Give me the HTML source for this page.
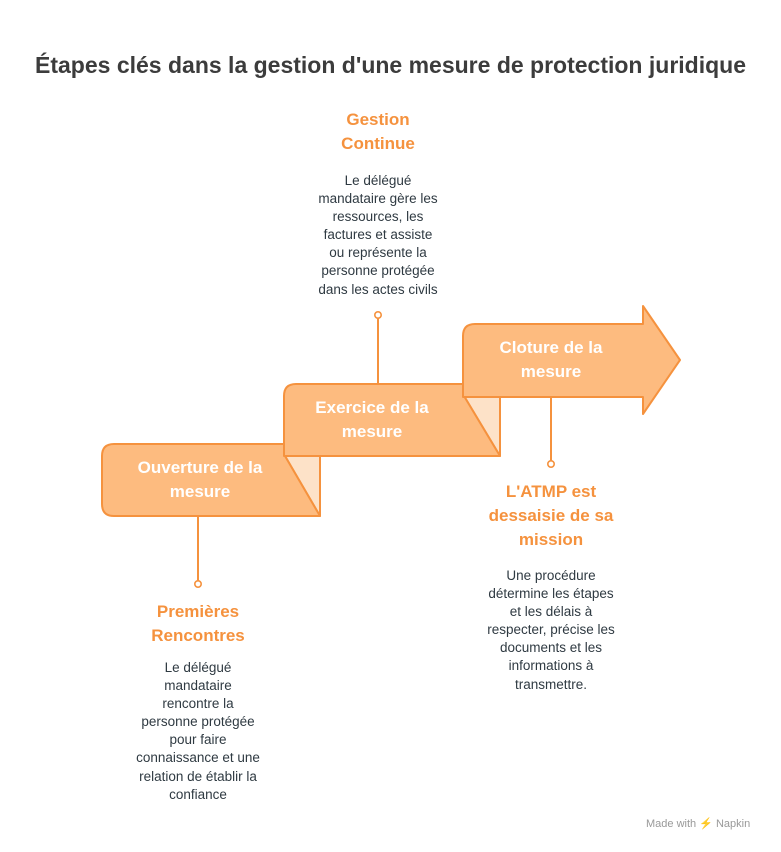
<!DOCTYPE html>
<html><head><meta charset="utf-8"><style>
body{margin:0;width:781px;height:852px;background:#fff;position:relative;font-family:"Liberation Sans",Arial,sans-serif;overflow:hidden}
.t{position:absolute;text-align:center;white-space:nowrap}
.h{font-weight:bold;font-size:17px;line-height:24px;color:#f5923e}
.b{font-size:13.5px;line-height:18.1px;color:#2f3a42}
.w{font-weight:bold;font-size:17px;line-height:24px;color:#fff}
</style></head><body>
<div class="t" style="left:0;width:781px;top:52px;font-size:23px;font-weight:bold;color:#3c3c3c">Étapes clés dans la gestion d'une mesure de protection juridique</div>
<svg width="781" height="852" style="position:absolute;left:0;top:0">
<g stroke="#f5923e" stroke-width="2" stroke-linejoin="round">
<polygon points="285,456 320,456 320,516" fill="#fde2c8"/>
<path d="M114,444 L285,444 L285,456 L320,516 L114,516 Q102,516 102,504 L102,456 Q102,444 114,444 Z" fill="#fdbb7f"/>
<polygon points="464,396 500,396 500,456" fill="#fde2c8"/>
<path d="M296,384 L464,384 L464,396 L500,456 L284,456 L284,396 Q284,384 296,384 Z" fill="#fdbb7f"/>
<path d="M475,324 L643,324 L643,306 L680,360 L643,414 L643,397 L463,397 L463,336 Q463,324 475,324 Z" fill="#fdbb7f"/>
<line x1="378" y1="318" x2="378" y2="384"/>
<line x1="198" y1="516" x2="198" y2="581"/>
<line x1="551" y1="397" x2="551" y2="461"/>
<circle cx="378" cy="315" r="3.2" fill="#fff" stroke-width="1.6"/>
<circle cx="198" cy="584" r="3.2" fill="#fff" stroke-width="1.6"/>
<circle cx="551" cy="464" r="3.2" fill="#fff" stroke-width="1.6"/>
</g></svg>
<div class="t w" style="left:100px;width:200px;top:456px">Ouverture de la<br>mesure</div>
<div class="t w" style="left:272px;width:200px;top:396px">Exercice de la<br>mesure</div>
<div class="t w" style="left:451px;width:200px;top:336px">Cloture de la<br>mesure</div>
<div class="t h" style="left:278px;width:200px;top:108px">Gestion<br>Continue</div>
<div class="t b" style="left:278px;width:200px;top:172px">Le délégué<br>mandataire gère les<br>ressources, les<br>factures et assiste<br>ou représente la<br>personne protégée<br>dans les actes civils</div>
<div class="t h" style="left:98px;width:200px;top:600px">Premières<br>Rencontres</div>
<div class="t b" style="left:98px;width:200px;top:659px">Le délégué<br>mandataire<br>rencontre la<br>personne protégée<br>pour faire<br>connaissance et une<br>relation de établir la<br>confiance</div>
<div class="t h" style="left:451px;width:200px;top:480px">L'ATMP est<br>dessaisie de sa<br>mission</div>
<div class="t b" style="left:451px;width:200px;top:567px">Une procédure<br>détermine les étapes<br>et les délais à<br>respecter, précise les<br>documents et les<br>informations à<br>transmettre.</div>
<div class="t" style="left:646px;top:817px;font-size:11px;color:#999">Made with ⚡ Napkin</div>
</body></html>
